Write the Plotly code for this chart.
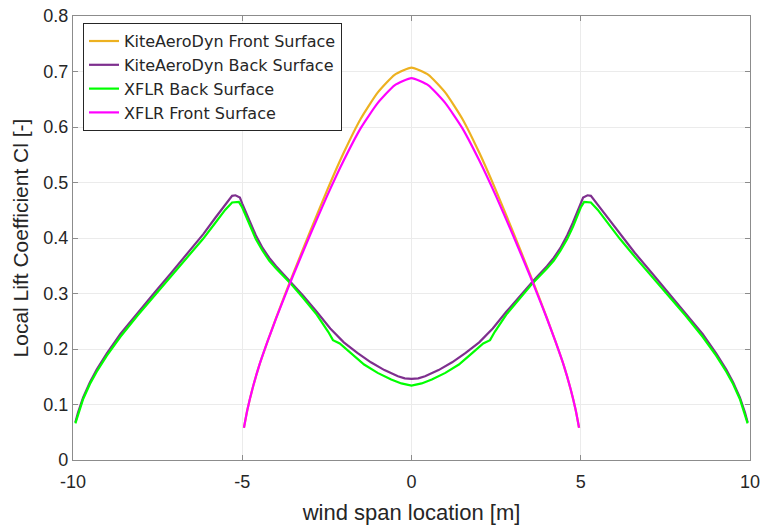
import plotly.graph_objects as go

# KiteAeroDyn front surface (orange)
kad_front_x = [-4.95, -4.85, -4.7, -4.5, -4.25, -4.0, -3.75, -3.5, -3.0, -2.5, -2.0, -1.5, -1.0, -0.5, 0.0,
               0.5, 1.0, 1.5, 2.0, 2.5, 3.0, 3.5, 3.75, 4.0, 4.25, 4.5, 4.7, 4.85, 4.95]
kad_front_y = [0.058, 0.090, 0.128, 0.170, 0.214, 0.256, 0.296, 0.335, 0.411, 0.485, 0.554, 0.615, 0.662, 0.694, 0.707,
               0.694, 0.662, 0.615, 0.554, 0.485, 0.411, 0.335, 0.296, 0.256, 0.214, 0.170, 0.128, 0.090, 0.058]

# KiteAeroDyn back surface (purple)
kad_back_x = [-9.93, -9.85, -9.7, -9.5, -9.3, -9.0, -8.6, -8.1, -7.6, -7.1, -6.6, -6.15, -5.8, -5.5, -5.3, -5.2, -5.07,
              -5.0, -4.9, -4.77, -4.6, -4.4, -4.2, -4.0, -3.6, -3.2, -2.8, -2.4, -2.0, -1.6, -1.2, -0.8, -0.4, -0.2, 0.0,
              0.2, 0.4, 0.8, 1.2, 1.6, 2.0, 2.4, 2.8, 3.2, 3.6, 4.0, 4.2, 4.4, 4.6, 4.77, 4.9, 5.0,
              5.07, 5.2, 5.3, 5.5, 5.8, 6.15, 6.6, 7.1, 7.6, 8.1, 8.6, 9.0, 9.3, 9.5, 9.7, 9.85, 9.93]
kad_back_y = [0.068, 0.086, 0.113, 0.140, 0.163, 0.192, 0.227, 0.265, 0.301, 0.337, 0.373, 0.407, 0.436, 0.460, 0.476, 0.477, 0.473,
              0.462, 0.447, 0.428, 0.405, 0.382, 0.364, 0.349, 0.323, 0.296, 0.267, 0.237, 0.212, 0.193, 0.176, 0.162, 0.151, 0.147, 0.146,
              0.147, 0.151, 0.162, 0.176, 0.193, 0.212, 0.237, 0.267, 0.296, 0.323, 0.349, 0.364, 0.382, 0.405, 0.428, 0.447, 0.462,
              0.473, 0.477, 0.476, 0.460, 0.436, 0.407, 0.373, 0.337, 0.301, 0.265, 0.227, 0.192, 0.163, 0.140, 0.113, 0.086, 0.068]

# XFLR back surface (green)
xflr_back_x = [-9.93, -9.85, -9.7, -9.5, -9.3, -9.0, -8.6, -8.1, -7.6, -7.1, -6.6, -6.15, -5.8, -5.5, -5.3, -5.1,
               -5.0, -4.9, -4.77, -4.6, -4.4, -4.2, -4.0, -3.6, -3.2, -2.8, -2.46, -2.32, -2.12, -1.8, -1.4, -1.0, -0.6, -0.3, 0.0,
               0.3, 0.6, 1.0, 1.4, 1.8, 2.12, 2.32, 2.46, 2.8, 3.2, 3.6, 4.0, 4.2, 4.4, 4.6, 4.77, 4.9, 5.0,
               5.1, 5.3, 5.5, 5.8, 6.15, 6.6, 7.1, 7.6, 8.1, 8.6, 9.0, 9.3, 9.5, 9.7, 9.85, 9.93]
xflr_back_y = [0.066, 0.083, 0.110, 0.137, 0.159, 0.188, 0.222, 0.260, 0.296, 0.331, 0.366, 0.399, 0.427, 0.451, 0.464, 0.465,
               0.455, 0.440, 0.420, 0.398, 0.377, 0.359, 0.345, 0.320, 0.292, 0.262, 0.231, 0.216, 0.210, 0.193, 0.172, 0.157, 0.145, 0.138, 0.134,
               0.138, 0.145, 0.157, 0.172, 0.193, 0.210, 0.216, 0.231, 0.262, 0.292, 0.320, 0.345, 0.359, 0.377, 0.398, 0.420, 0.440, 0.455,
               0.465, 0.464, 0.451, 0.427, 0.399, 0.366, 0.331, 0.296, 0.260, 0.222, 0.188, 0.159, 0.137, 0.110, 0.083, 0.066]

# XFLR front surface (magenta)
xflr_front_x = [-4.95, -4.85, -4.7, -4.5, -4.25, -4.0, -3.75, -3.5, -3.0, -2.5, -2.0, -1.5, -1.0, -0.5, 0.0,
                0.5, 1.0, 1.5, 2.0, 2.5, 3.0, 3.5, 3.75, 4.0, 4.25, 4.5, 4.7, 4.85, 4.95]
xflr_front_y = [0.058, 0.090, 0.128, 0.170, 0.214, 0.255, 0.294, 0.332, 0.405, 0.475, 0.540, 0.598, 0.643, 0.675, 0.688,
                0.675, 0.643, 0.598, 0.540, 0.475, 0.405, 0.332, 0.294, 0.255, 0.214, 0.170, 0.128, 0.090, 0.058]

x_ticks = [-10, -5, 0, 5, 10]
y_ticks = [0, 0.1, 0.2, 0.3, 0.4, 0.5, 0.6, 0.7, 0.8]

FONT = "Liberation Sans, Arial, sans-serif"
LEGEND_FONT = "DejaVu Sans, Liberation Sans, sans-serif"

fig = go.Figure()
fig.add_trace(go.Scatter(x=kad_front_x, y=kad_front_y, mode="lines",
                         line=dict(color="#EDB120", width=2.2, shape="spline", smoothing=0.5),
                         name="KiteAeroDyn Front Surface"))
fig.add_trace(go.Scatter(x=kad_back_x, y=kad_back_y, mode="lines",
                         line=dict(color="#7E2F8E", width=2.2),
                         name="KiteAeroDyn Back Surface"))
fig.add_trace(go.Scatter(x=xflr_back_x, y=xflr_back_y, mode="lines",
                         line=dict(color="#00FF00", width=2.2),
                         name="XFLR Back Surface"))
fig.add_trace(go.Scatter(x=xflr_front_x, y=xflr_front_y, mode="lines",
                         line=dict(color="#FF00FF", width=2.2, shape="spline", smoothing=0.5),
                         name="XFLR Front Surface"))

axis_common = dict(
    showgrid=True, gridcolor="#EBEBEB", gridwidth=1,
    showline=True, linecolor="#8C8C8C", linewidth=1.2, mirror="ticks",
    ticks="inside", ticklen=5, tickcolor="#8C8C8C",
    zeroline=False, automargin=False, ticklabeloverflow="allow",
    tickfont=dict(family=FONT, size=18, color="#262626"),
)

fig.update_layout(
    width=763, height=525,
    paper_bgcolor="white", plot_bgcolor="white",
    margin=dict(l=73, r=13, t=16, b=65),
    font=dict(family=FONT, color="#262626"),
    xaxis=dict(range=[-10, 10], tickvals=x_ticks, ticktext=[str(v) for v in x_ticks],
               ticklabelstandoff=5,
               title=dict(text="wind span location [m]", font=dict(family=FONT, size=22, color="#262626"), standoff=18),
               **axis_common),
    yaxis=dict(range=[0, 0.8], tickvals=y_ticks, ticktext=["0" if v == 0 else f"{v:g}" for v in y_ticks],
               title=dict(text="Local Lift Coefficient Cl [-]", font=dict(family=FONT, size=21, color="#262626"), standoff=8),
               **axis_common),
    legend=dict(x=0.0148, y=0.984, xanchor="left", yanchor="top",
                bgcolor="white", bordercolor="#262626", borderwidth=1,
                font=dict(family=LEGEND_FONT, size=16, color="#262626"),
                tracegroupgap=0),
    showlegend=True,
)

fig.write_html("out.html",
               config={"displayModeBar": False},
               post_script="document.body.style.margin='0';document.body.style.overflow='hidden';")
